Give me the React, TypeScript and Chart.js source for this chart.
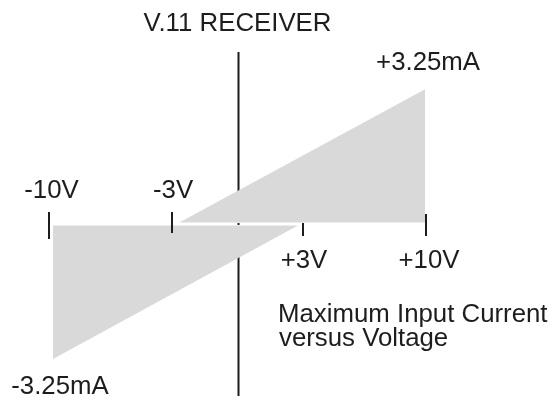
import React, { useEffect, useRef } from "react";
import { Chart, registerables } from "chart.js";

Chart.register(...registerables);

// Voltage (V) / current (mA) data
const upperTriangleV = [-3.23, 9.95];
const upperTriangleMA = [0, 3.25];
const lowerTriangleV = [-9.79, 3.35];
const lowerTriangleMA = [-3.25, 0];

const tickVolts = [-10, -3.5, 3.5, 10];
const tickLabels = ["-10V", "-3V", "+3V", "+10V"];

const titleText = "V.11 RECEIVER";
const maxCurrentLabel = "+3.25mA";
const minCurrentLabel = "-3.25mA";
const captionLines = ["Maximum Input Current", "versus Voltage"];

const FONT = "25.8px 'Liberation Sans', Arial, sans-serif";
const INK = "#1e1c1d";
const GRAY = "#d9d9d9";

const diagramPlugin = {
  id: "diagram",
  beforeDatasetsDraw(chart: any) {
    const { ctx, scales } = chart;
    const x0 = scales.x.getPixelForValue(0) + 1;
    ctx.save();
    ctx.strokeStyle = INK;
    ctx.lineWidth = 2;
    ctx.beginPath();
    ctx.moveTo(x0, 52);
    ctx.lineTo(x0, 396);
    ctx.stroke();
    ctx.restore();
  },
  afterDatasetsDraw(chart: any) {
    const { ctx, scales } = chart;
    const xs = scales.x;
    const ys = scales.y;
    const y0 = ys.getPixelForValue(0);
    ctx.save();
    // white gap between the two areas
    ctx.strokeStyle = "#ffffff";
    ctx.lineWidth = 3;
    ctx.beginPath();
    ctx.moveTo(xs.getPixelForValue(lowerTriangleV[0]) - 2, y0);
    ctx.lineTo(xs.getPixelForValue(upperTriangleV[1]) + 2, y0);
    ctx.stroke();

    // small visible piece of the centre line in the gap
    ctx.fillStyle = INK;
    ctx.fillRect(xs.getPixelForValue(0), y0 - 1, 2, 2);

    // tick marks
    const tickExt = [
      [-12, 15],
      [-12, 9],
      [-1, 12],
      [-10, 12],
    ];
    const labelDx = [2.5, 1.5, 0.5, 3];
    ctx.strokeStyle = INK;
    ctx.lineWidth = 2;
    tickVolts.forEach((v, i) => {
      const px = Math.round(xs.getPixelForValue(v));
      ctx.beginPath();
      ctx.moveTo(px, y0 + tickExt[i][0]);
      ctx.lineTo(px, y0 + tickExt[i][1]);
      ctx.stroke();
    });

    ctx.fillStyle = INK;
    ctx.font = FONT;
    ctx.textAlign = "center";
    ctx.textBaseline = "alphabetic";
    tickVolts.forEach((v, i) => {
      const px = xs.getPixelForValue(v) + labelDx[i];
      const py = v < 0 ? y0 - 26 : y0 + 44;
      ctx.fillText(tickLabels[i], px, py);
    });

    ctx.fillText(titleText, xs.getPixelForValue(0), 31);
    ctx.fillText(
      maxCurrentLabel,
      xs.getPixelForValue(upperTriangleV[1]) + 3,
      ys.getPixelForValue(upperTriangleMA[1]) - 19
    );
    ctx.fillText(
      minCurrentLabel,
      xs.getPixelForValue(lowerTriangleV[0]) + 7,
      ys.getPixelForValue(lowerTriangleMA[0]) + 35
    );

    ctx.textAlign = "left";
    ctx.fillText(captionLines[0], 278, 322);
    ctx.fillText(captionLines[1], 279, 346);
    ctx.restore();
  },
};

export default function App() {
  const canvasRef = useRef<HTMLCanvasElement | null>(null);

  useEffect(() => {
    if (!canvasRef.current) return;
    const chart = new Chart(canvasRef.current, {
      type: "scatter",
      data: {
        datasets: [
          {
            data: upperTriangleV.map((v, i) => ({ x: v, y: upperTriangleMA[i] })),
            showLine: true,
            fill: "origin",
            backgroundColor: GRAY,
            borderWidth: 0,
            borderColor: GRAY,
            pointRadius: 0,
          },
          {
            data: lowerTriangleV.map((v, i) => ({ x: v, y: lowerTriangleMA[i] })),
            showLine: true,
            fill: "origin",
            backgroundColor: GRAY,
            borderWidth: 0,
            borderColor: GRAY,
            pointRadius: 0,
          },
        ],
      },
      options: {
        animation: false,
        responsive: false,
        devicePixelRatio: 1,
        layout: { padding: 0 },
        plugins: {
          legend: { display: false },
          tooltip: { enabled: false },
        },
        scales: {
          x: { type: "linear", min: -12.6, max: 16.79, display: false },
          y: { type: "linear", min: -4.289, max: 5.398, display: false },
        },
      },
      plugins: [diagramPlugin],
    });
    return () => chart.destroy();
  }, []);

  return (
    <div style={{ position: "absolute", left: 0, top: 0, width: 554, height: 402, background: "#fff" }}>
      <canvas ref={canvasRef} width={554} height={402} />
    </div>
  );
}
